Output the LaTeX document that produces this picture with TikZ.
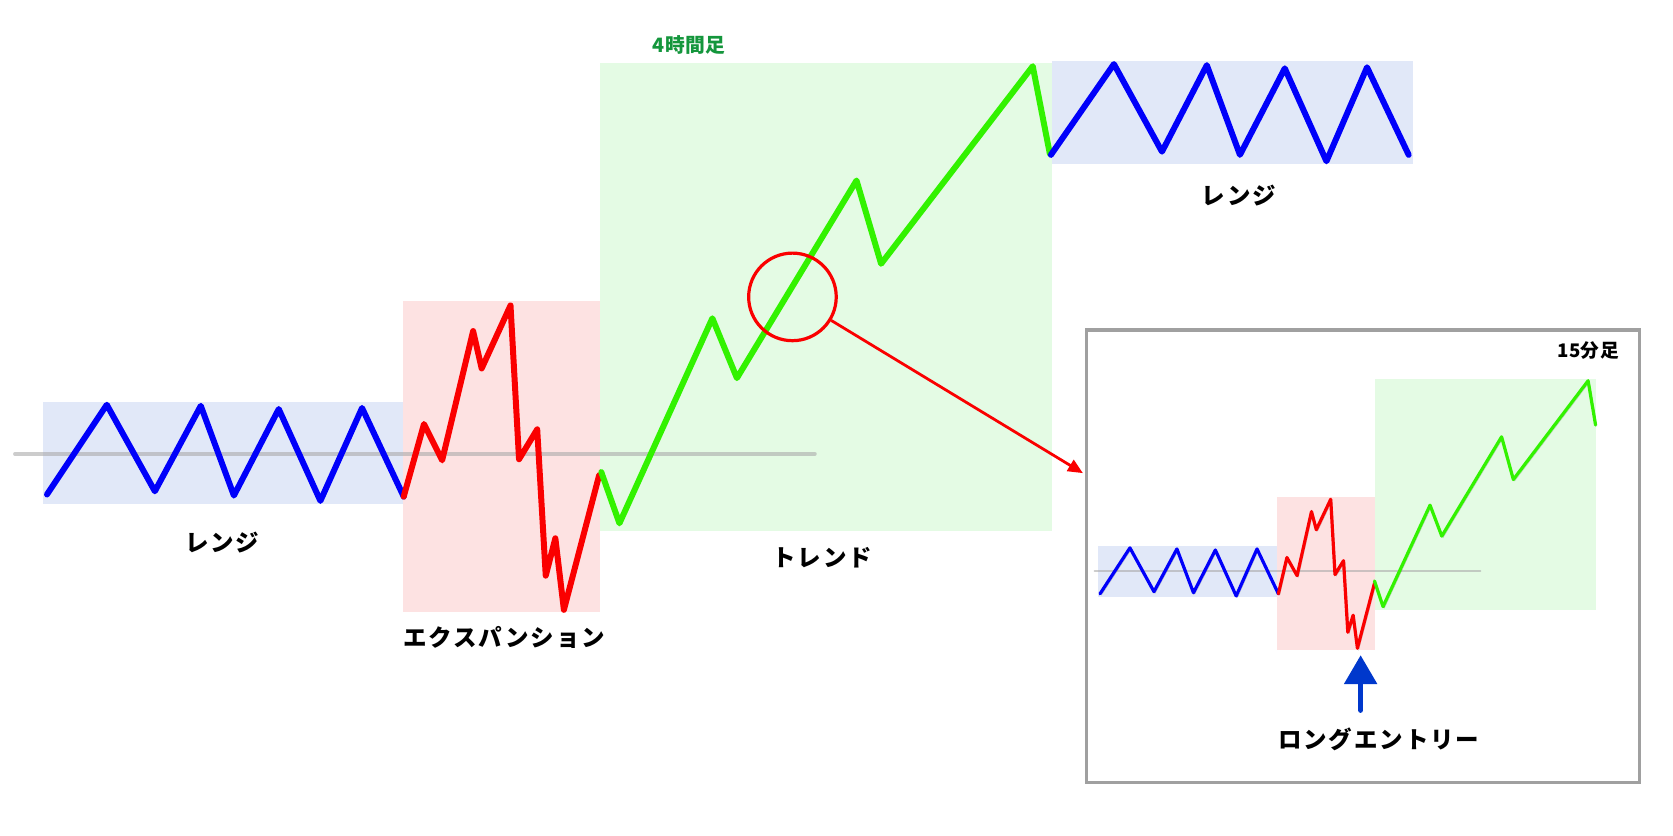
\documentclass[tikz,border=0pt]{standalone}
\usepackage{fontspec}
\newfontfamily\jpfont{Noto Sans CJK JP}[LetterSpace=8]
\newfontfamily\jpfontsm{Noto Sans CJK JP}[LetterSpace=2]
\usetikzlibrary{arrows.meta}
\definecolor{rangefill}{RGB}{225,232,248}
\definecolor{expfill}{RGB}{253,226,226}
\definecolor{trendfill}{RGB}{228,251,228}
\definecolor{rangeblue}{RGB}{0,0,250}
\definecolor{expred}{RGB}{250,0,0}
\definecolor{trendgreen}{RGB}{50,242,0}
\definecolor{lblgreen}{RGB}{20,150,60}
\definecolor{midgray}{RGB}{170,170,170}
\definecolor{framegray}{RGB}{160,160,160}
\definecolor{entryblue}{RGB}{0,56,204}
\begin{document}
\begin{tikzpicture}[x=1pt,y=-1pt,
  zoneR/.style={fill=rangefill,draw=none},
  zoneE/.style={fill=expfill,draw=none},
  zoneT/.style={fill=trendfill,draw=none},
  midline/.style={draw=midgray,opacity=0.6,line cap=round},
  wave/.style={line join=round,line cap=round,
    preaction={draw=black,opacity=0.22,transform canvas={shift={(1.3pt,-1.3pt)}}}},
  bigwave/.style={wave,line width=5.6pt},
  smallwave/.style={wave,line width=3pt},
  lbl/.style={font={\jpfont\bfseries\fontsize{22}{26}\selectfont},text=black,inner sep=0pt},
  smalllbl/.style={font={\jpfontsm\bfseries\fontsize{17.5}{20}\selectfont},inner sep=0pt},
]
\useasboundingbox (0,0) rectangle (1566.5,782);
\fill[white] (0,0) rectangle (1566.5,782);

% ---- main chart zones
\path[zoneR] (40,376) rectangle (377,472);
\path[zoneE] (377,282) rectangle (562,573);
\path[zoneT] (562,59) rectangle (985,497);
\path[zoneR] (985,57) rectangle (1323,154);

\draw[midline,line width=3.5pt] (14,425) -- (763,425);

% ---- main chart waves
\draw[bigwave,draw=rangeblue] (44,463)--(100,379)--(145,460)--(188,380)--(219,464)--(261,383)--(300,469)--(339,382)--(378,465);
\draw[bigwave,draw=expred] (378,465)--(397,397)--(414,431)--(443,310)--(451,345)--(478,286)--(486,430)--(503,402)--(511,539)--(520,504)--(528,571)--(561,445);
\draw[bigwave,draw=trendgreen] (563,442)--(580,490)--(667,298)--(690,354)--(802,169)--(825,247)--(967,62)--(983,144);
\draw[bigwave,draw=rangeblue] (984,145)--(1043,60)--(1088,142)--(1130,61)--(1161,145)--(1203,64)--(1242,151)--(1280,63)--(1319,145);

% ---- labels
\node[lbl] (lrange) at (208,508) {レンジ};
\node[lbl] (lexp) at (472,597) {エクスパンション};
\node[lbl] (ltrend) at (770,522) {トレンド};
\node[lbl] (lrange2) at (1160,183) {レンジ};
\node[smalllbl,text=lblgreen,font={\jpfontsm\bfseries\fontsize{18.5}{21}\selectfont}] (l4h) at (645,42) {4時間足};

% ---- zoom circle and arrow
\node[draw=expred,line width=3pt,circle,minimum size=82pt,inner sep=0pt] (zoomc) at (742,278) {};
\coordinate (arrowend) at (1014,443);
\draw[draw=expred,line width=2.6pt,-{Triangle[length=14pt,width=12pt]}] (zoomc) -- (arrowend);

% ---- inset 15 min
\node[draw=framegray,line width=3pt,minimum width=518pt,minimum height=424pt,inner sep=0pt] (inset) at (1276,521) {};
\path[zoneR] (1028,511) rectangle (1196,559);
\path[zoneE] (1196,465) rectangle (1287,609);
\path[zoneT] (1287,355) rectangle (1494,571);
\draw[midline,line width=2pt] (1025,535) -- (1386,535);
\draw[smallwave,draw=rangeblue] (1030,556)--(1058,513)--(1080.5,554)--(1102,514)--(1117.5,555)--(1138,515)--(1157.5,558)--(1177,514)--(1197,556);
\draw[smallwave,draw=expred] (1197,556)--(1205,522)--(1214.5,539)--(1228,479)--(1232.5,496)--(1246,467.5)--(1250,538)--(1258,525)--(1262,592)--(1267,576)--(1271,607)--(1287,546);
\draw[smallwave,draw=trendgreen] (1287,544)--(1295,568)--(1339,473)--(1350,502)--(1406,409)--(1417,449)--(1487,356.5)--(1494,398);

\node[smalllbl,text=black] (l15m) at (1487,328) {15分足};
\coordinate (entrybase) at (1274,665);
\coordinate (entrytip) at (1274,613.5);
\draw[draw=entryblue,line width=5pt,line cap=round,-{Triangle[length=27pt,width=30pt]}] (entrybase) -- (entrytip);
\node[lbl] (lentry) at (1291,692) {ロングエントリー};
\end{tikzpicture}
\end{document}
